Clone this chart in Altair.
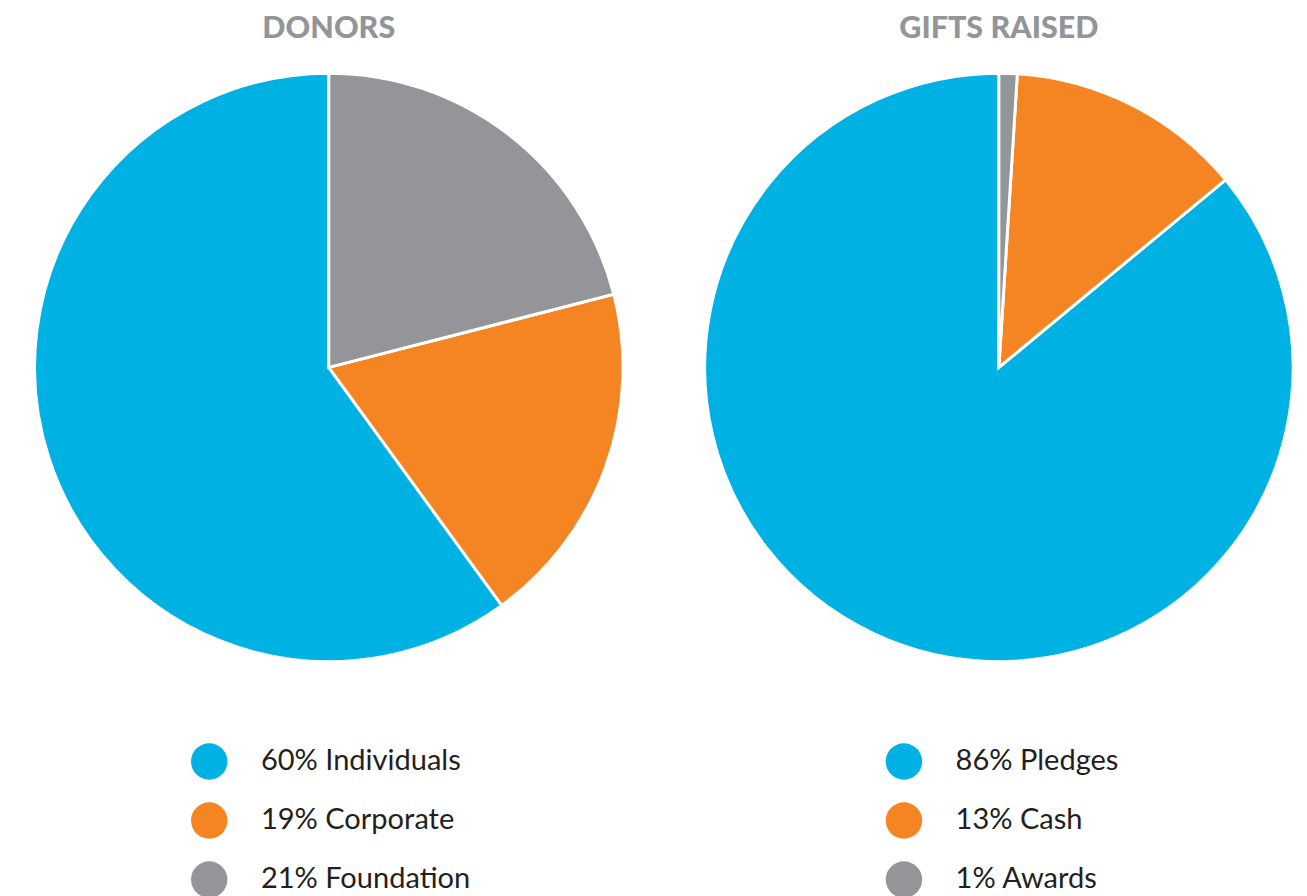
import altair as alt
import pandas as pd

# Data
donor_labels = ["Individuals", "Corporate", "Foundation"]
donor_pct = [60, 19, 21]
gift_labels = ["Pledges", "Cash", "Awards"]
gift_pct = [86, 13, 1]
slice_order = [2, 1, 0]  # clockwise from 12 o'clock: gray, orange, blue
colors = ["#00B2E3", "#F58523", "#939598"]
titles = ["DONORS", "GIFTS RAISED"]


def panel(title, labels, pcts, legend_x):
    names = [f"{p}% {l}" for p, l in zip(pcts, labels)]
    df = pd.DataFrame({"label": names, "pct": pcts, "ord": slice_order})
    return (
        alt.Chart(df)
        .mark_arc(radius=299, outerRadius=299, stroke="white", strokeWidth=3)
        .encode(
            theta=alt.Theta("pct:Q", stack=True),
            order=alt.Order("ord:Q"),
            color=alt.Color(
                "label:N",
                scale=alt.Scale(domain=names, range=colors),
                legend=alt.Legend(
                    title=None,
                    orient="none",
                    legendX=legend_x,
                    legendY=679,
                    symbolType="circle",
                    symbolSize=1369,
                    symbolStrokeWidth=0,
                    symbolOpacity=1,
                    labelFont="Lato",
                    labelFontSize=29.5,
                    labelColor="#231F20",
                    labelOffset=34,
                    rowPadding=23,
                    labelLimit=400,
                ),
            ),
        )
        .properties(
            width=600,
            height=594,
            title=alt.TitleParams(
                title,
                font="Lato",
                fontSize=31,
                fontWeight=900,
                color="#939598",
                anchor="middle",
                offset=23,
            ),
        )
    )


left = panel(titles[0], donor_labels, donor_pct, 160)
right = panel(titles[1], gift_labels, gift_pct, 185)

chart = (
    alt.hconcat(left, right, spacing=71)
    .resolve_scale(color="independent")
    .properties(padding={"left": 21, "top": -2, "right": 0, "bottom": -6})
    .configure_view(stroke=None)
)

chart.save("out.html", embed_options={"renderer": "svg", "actions": False})
